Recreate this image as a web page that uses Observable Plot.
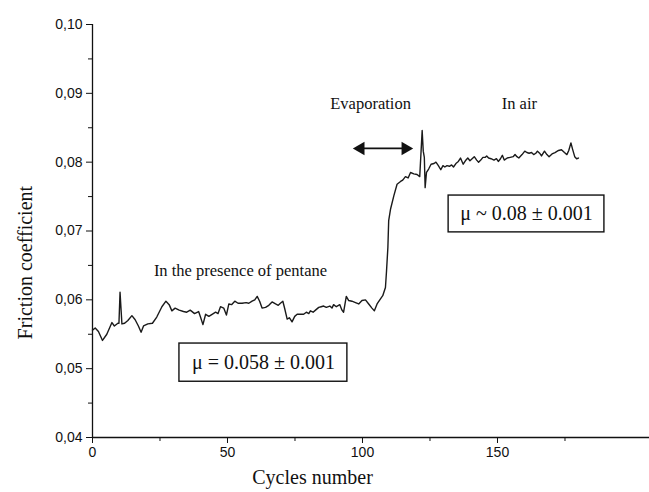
<!DOCTYPE html>
<html>
<head>
<meta charset="utf-8">
<script src="https://cdn.jsdelivr.net/npm/d3@7"></script>
<script src="https://cdn.jsdelivr.net/npm/@observablehq/plot@0.6"></script>
<style>
  html, body { margin: 0; padding: 0; background: #fff; }
  #chart svg { display: block; }
</style>
</head>
<body>
<div id="chart"></div>
<script>
// Friction coefficient vs cycles
const cycles = [0,1.0,2.2,3.7,5.3,7.2,8.1,9.4,9.8,10.2,10.9,11.9,13.1,14.6,15.8,17.0,18.0,18.9,20.5,22.2,23.8,25.7,27.2,28.4,29.4,30.6,32.1,33.7,34.9,36.2,37.8,39.3,40.0,40.9,41.9,43.1,44.3,45.6,46.5,47.4,48.6,49.6,50.5,51.5,52.7,53.9,55.4,56.9,57.9,59.1,60.1,61.0,61.9,62.8,64.1,65.3,66.5,67.8,68.8,69.6,70.5,71.2,72.1,72.9,73.9,74.9,75.8,77.4,78.2,79.2,80.1,80.7,81.7,82.6,83.8,84.7,85.6,86.6,87.9,88.7,89.3,90.3,91.6,92.4,93.0,94.0,94.9,96.1,97.4,98.6,99.8,101.1,102.3,103.5,104.4,105.4,106.6,107.5,108.5,108.9,109.4,109.7,110.4,111.6,112.8,114.1,114.9,115.9,116.9,117.8,119.0,120.2,121.2,121.7,122.1,122.5,122.9,123.2,123.7,124.5,125.4,126.5,127.2,128.1,129.0,129.8,130.5,131.3,132.2,133.0,133.7,134.6,135.5,136.3,137.3,138.1,139.0,139.8,140.6,141.4,142.3,143.0,143.8,144.6,145.5,146.0,146.7,147.6,148.7,149.6,150.3,151.1,151.8,152.5,153.6,154.7,155.8,156.5,157.2,157.9,159.1,160.1,160.9,161.7,162.6,163.4,164.2,164.8,165.6,166.3,167.4,168.3,169.1,170.2,171.3,172.6,173.7,174.8,175.7,176.4,177.2,177.8,178.6,179.3,180.0];
const friction = [0.0556,0.0559,0.0554,0.0541,0.0550,0.0567,0.0562,0.0566,0.0566,0.0611,0.0565,0.0566,0.0570,0.0577,0.0571,0.0562,0.0553,0.0562,0.0565,0.0566,0.0575,0.0590,0.0598,0.0593,0.0584,0.0588,0.0585,0.0583,0.0582,0.0585,0.0580,0.0583,0.0575,0.0564,0.0579,0.0576,0.0579,0.0582,0.0580,0.0590,0.0588,0.0578,0.0594,0.0593,0.0598,0.0595,0.0595,0.0596,0.0595,0.0598,0.0600,0.0605,0.0598,0.0588,0.0589,0.0592,0.0597,0.0594,0.0592,0.0595,0.0598,0.0587,0.0572,0.0574,0.0568,0.0576,0.0579,0.0579,0.0579,0.0582,0.0580,0.0584,0.0582,0.0585,0.0589,0.0590,0.0591,0.0589,0.0591,0.0588,0.0593,0.0590,0.0593,0.0585,0.0582,0.0605,0.0599,0.0598,0.0596,0.0594,0.0599,0.0600,0.0594,0.0588,0.0584,0.0594,0.0601,0.0606,0.0618,0.0642,0.0676,0.0715,0.0732,0.0751,0.0768,0.0772,0.0774,0.0779,0.0777,0.0785,0.0783,0.0782,0.0779,0.0816,0.0846,0.0816,0.0807,0.0763,0.0785,0.0790,0.0797,0.0798,0.0800,0.0795,0.0789,0.0795,0.0793,0.0795,0.0794,0.0796,0.0793,0.0798,0.0801,0.0806,0.0797,0.0802,0.0806,0.0802,0.0805,0.0808,0.0803,0.0800,0.0803,0.0807,0.0807,0.0809,0.0806,0.0805,0.0803,0.0805,0.0801,0.0805,0.0810,0.0803,0.0806,0.0807,0.0808,0.0811,0.0808,0.0806,0.0811,0.0816,0.0814,0.0813,0.0814,0.0811,0.0813,0.0816,0.0813,0.0809,0.0816,0.0811,0.0808,0.0812,0.0814,0.0817,0.0818,0.0814,0.0811,0.0817,0.0828,0.0819,0.0808,0.0805,0.0806];

const xMajorTicks = [0, 50, 100, 150];
const xMinorTicks = [25, 75, 125, 175];
const yMajorTicks = [0.04, 0.05, 0.06, 0.07, 0.08, 0.09, 0.10];
const yMinorTicks = [0.045, 0.055, 0.065, 0.075, 0.085, 0.095];

const xTitle = "Cycles number";
const yTitle = "Friction coefficient";

// annotations (data coordinates)
const labelTexts = ["In the presence of pentane", "Evaporation", "In air"];
const labelX = [54.8, 103.0, 158.1];
const labelY = [0.0643, 0.0885, 0.0885];

const boxTexts = ["μ = 0.058 ± 0.001", "μ ~ 0.08 ± 0.001"];
const boxX1 = [32.2, 131.9];
const boxX2 = [94.4, 189.6];
const boxY1 = [0.0481, 0.0698];
const boxY2 = [0.05365, 0.07515];

const arrowX = [99.3, 115.9];
const arrowY = [0.0820, 0.0820];

const series = cycles.map((c, i) => ({cycle: c, mu: friction[i]}));
const boxes = boxTexts.map((t, i) => ({t, x1: boxX1[i], x2: boxX2[i], y1: boxY1[i], y2: boxY2[i], xm: (boxX1[i] + boxX2[i]) / 2, ym: (boxY1[i] + boxY2[i]) / 2}));
const labels = labelTexts.map((t, i) => ({t, x: labelX[i], y: labelY[i]}));
const arrowEnds = arrowX.map((x, i) => ({x, y: arrowY[i], rot: i === 0 ? -90 : 90}));

const serif = "'Liberation Serif', 'Times New Roman', serif";
const sans = "'Liberation Sans', Arial, sans-serif";
const comma = d => d3.format(".2f")(d).replace(".", ",");

const chart = Plot.plot({
  width: 649,
  height: 492,
  marginLeft: 92,
  marginRight: 0,
  marginTop: 24,
  marginBottom: 55,
  style: {fontFamily: sans, fontSize: "14px", color: "#111", background: "#fff"},
  x: {domain: [0, 206.3]},
  y: {domain: [0.04, 0.10]},
  marks: [
    Plot.axisX({ticks: xMajorTicks, tickSize: 6, tickPadding: 4, tickFormat: d => String(d), label: null, fontSize: 14, stroke: "#111"}),
    Plot.axisX({ticks: xMinorTicks, tickSize: 4, tickFormat: () => "", label: null, stroke: "#111"}),
    Plot.axisY({ticks: yMajorTicks, tickSize: 6, tickPadding: 4, tickFormat: comma, label: null, fontSize: 14, stroke: "#111"}),
    Plot.axisY({ticks: yMinorTicks, tickSize: 4, tickFormat: () => "", label: null, stroke: "#111"}),
    Plot.ruleY([0.04], {stroke: "#111", strokeWidth: 1.3}),
    Plot.ruleX([0], {stroke: "#111", strokeWidth: 1.3}),
    Plot.line(series, {x: "cycle", y: "mu", stroke: "#1a1a1a", strokeWidth: 1.4}),
    Plot.rect(boxes, {x1: "x1", x2: "x2", y1: "y1", y2: "y2", fill: "white", stroke: "#111", strokeWidth: 1.4}),
    Plot.text(boxes, {x: "xm", y: "ym", text: "t", fontFamily: serif, fontSize: 20, fill: "#111"}),
    Plot.text(labels, {x: "x", y: "y", text: "t", fontFamily: serif, fontSize: 16.5, fill: "#111"}),
    Plot.line(arrowEnds, {x: "x", y: "y", stroke: "#111", strokeWidth: 1.8}),
    Plot.dot(arrowEnds, {x: "x", y: "y", symbol: "triangle", r: 5, rotate: "rot", fill: "#111", stroke: "none"}),
    Plot.text([xTitle], {frameAnchor: "bottom", x: 81.5, dy: 46, fontFamily: serif, fontSize: 20, fill: "#111"}),
    Plot.text([yTitle], {frameAnchor: "left", textAnchor: "middle", y: () => 0.0654, dx: -67, rotate: -90, fontFamily: serif, fontSize: 20, fill: "#111"})
  ]
});
document.getElementById("chart").appendChild(chart);
</script>
</body>
</html>
